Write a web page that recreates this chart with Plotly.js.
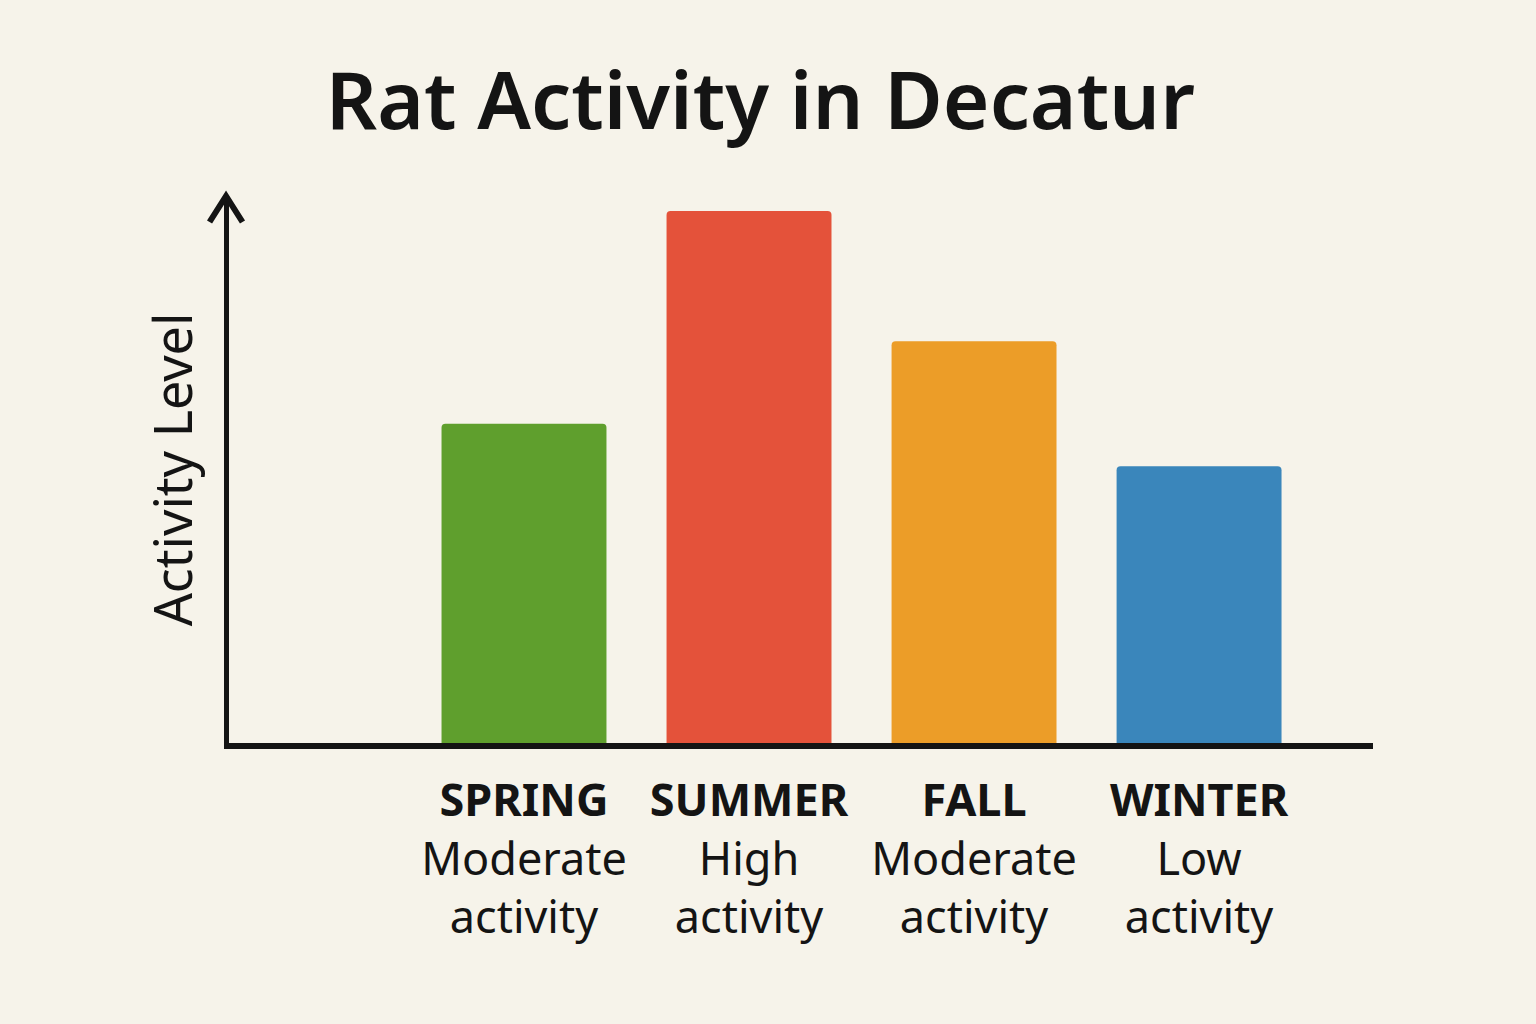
<!DOCTYPE html>
<html>
<head>
<meta charset="utf-8">
<script src="https://cdn.plot.ly/plotly-3.0.1.min.js"></script>
<style>
  body { margin: 0; background: #f6f3ea; }
  #chart { width: 1536px; height: 1024px; }
</style>
</head>
<body>
<div id="chart"></div>
<script>
var seasons = ['SPRING', 'SUMMER', 'FALL', 'WINTER'];
var activityNotes = ['Moderate<br>activity', 'High<br>activity', 'Moderate<br>activity', 'Low<br>activity'];
var activity = [6.0, 10.0, 7.55, 5.2];
var barColors = ['#5f9f2d', '#e4523a', '#ec9d28', '#3a86bb'];

var tickText = seasons.map(function(s, i) {
  return '<b>' + s + '</b><br>' + activityNotes[i];
});

var ink = '#141414';

var layout = {
  width: 1536,
  height: 1024,
  paper_bgcolor: '#f6f3ea',
  plot_bgcolor: '#f6f3ea',
  showlegend: false,
  bargap: 0.267,
  barcornerradius: 4,
  margin: { l: 229, r: 163, t: 196, b: 281, pad: 0 },
  font: { family: 'Noto Sans, sans-serif', color: ink },
  title: {
    text: 'Rat Activity in Decatur',
    x: 0.495,
    xanchor: 'center',
    xref: 'container',
    y: 0.929,
    yanchor: 'top',
    yref: 'container',
    font: { family: 'Noto Sans, sans-serif', size: 80, color: ink, weight: 600 }
  },
  xaxis: {
    type: 'category',
    range: [-1.311, 3.773],
    tickvals: seasons,
    ticktext: tickText,
    showgrid: false,
    zeroline: false,
    showline: true,
    linecolor: ink,
    linewidth: 6,
    ticks: '',
    ticklabelstandoff: 13,
    tickfont: { family: 'Noto Sans, sans-serif', size: 45, color: ink },
    fixedrange: true
  },
  yaxis: {
    range: [0, 10.28],
    showgrid: false,
    zeroline: false,
    showline: true,
    linecolor: ink,
    linewidth: 5,
    showticklabels: false,
    ticks: '',
    title: {
      text: 'Activity Level',
      standoff: 16,
      font: { family: 'Noto Sans, sans-serif', size: 52, color: ink }
    },
    fixedrange: true
  },
  shapes: [{
    type: 'path',
    xref: 'paper',
    yref: 'paper',
    path: 'M -0.0170 0.9525 L -0.0026 1.0 L 0.0118 0.9525',
    line: { color: ink, width: 6 }
  }]
};

Plotly.newPlot('chart', [{
  type: 'bar',
  x: seasons,
  y: activity,
  marker: { color: barColors, line: { width: 0 } },
  hoverinfo: 'skip'
}], layout, { displayModeBar: false, staticPlot: true });
</script>
</body>
</html>
